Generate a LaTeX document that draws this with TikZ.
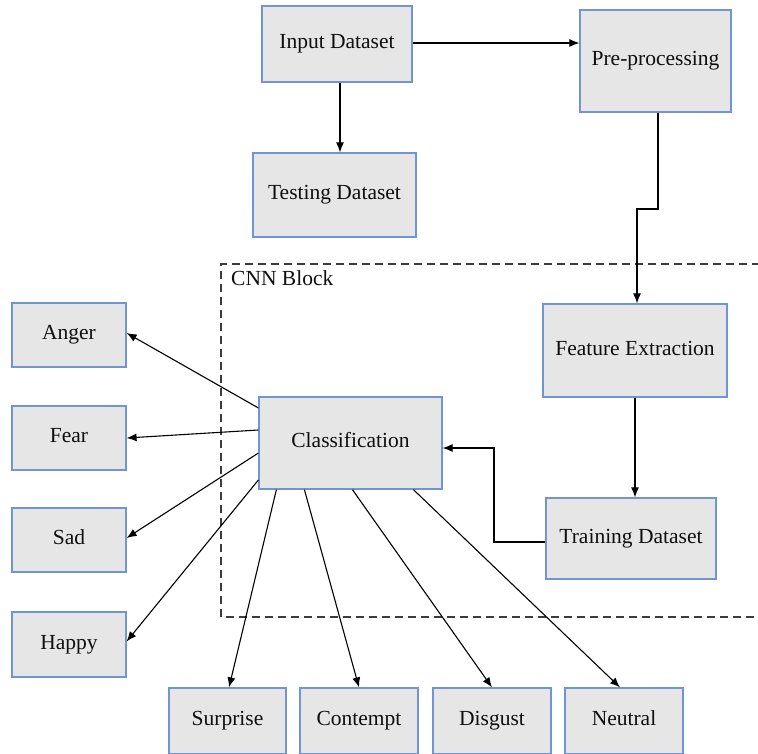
\documentclass[tikz,border=0pt]{standalone}
\usepackage{fontspec}
\setmainfont{Liberation Serif}
\newfontfamily\diagfont{Liberation Serif}
\usetikzlibrary{arrows.meta}
\definecolor{boxfill}{RGB}{231,230,230}
\definecolor{boxline}{RGB}{112,149,210}
\definecolor{txt}{RGB}{15,15,15}
\definecolor{dashc}{RGB}{60,60,60}
\tikzset{
  stepbox/.style={draw=boxline, fill=boxfill, line width=1.2pt, inner sep=0pt,
    font=\diagfont\fontsize{21.5}{25}\selectfont, text=txt, text height=1.0em, text depth=0.1em},
  arr/.style={draw=black, line width=1.1pt, -{Latex[length=10pt,width=8pt]}},
  cnnline/.style={draw=dashc, line width=1.4pt, dash pattern=on 8pt off 5pt},
}
\begin{document}
\begin{tikzpicture}[x=1pt,y=-1pt]
\useasboundingbox (0,0) rectangle (758,754);
\clip (0,0) rectangle (758,754);
\fill[white] (0,0) rectangle (758,754);

% CNN block
\draw[cnnline] (760,264) -- (221,264) -- (221,617) -- (760,617);
\node[anchor=base west, font=\diagfont\fontsize{21.5}{25}\selectfont, text=txt, inner sep=0pt] (cnn) at (231,285) {CNN Block};

% boxes
\node[stepbox, minimum width=150pt, minimum height=76pt] (inp) at (337,44) {Input Dataset};
\node[stepbox, minimum width=151pt, minimum height=102pt] (pre) at (655.5,61) {Pre-processing};
\node[stepbox, minimum width=163pt, minimum height=84pt] (test) at (334.5,195) {Testing Dataset};
\node[stepbox, minimum width=184pt, minimum height=93pt] (feat) at (635,350.5) {Feature Extraction};
\node[stepbox, minimum width=170pt, minimum height=81pt] (train) at (631,538.5) {Training Dataset};
\node[stepbox, minimum width=183pt, minimum height=92pt] (cls) at (350.5,443) {Classification};

\node[stepbox, minimum width=114pt, minimum height=64pt] (anger) at (69,335) {Anger};
\node[stepbox, minimum width=114pt, minimum height=64pt] (fear) at (69,438) {Fear};
\node[stepbox, minimum width=114pt, minimum height=64pt] (sad) at (69,540) {Sad};
\node[stepbox, minimum width=114pt, minimum height=65pt] (happy) at (69,644.5) {Happy};

\node[stepbox, minimum width=117pt, minimum height=66pt] (surprise) at (227.5,721) {Surprise};
\node[stepbox, minimum width=118pt, minimum height=66pt] (contempt) at (359,721) {Contempt};
\node[stepbox, minimum width=118pt, minimum height=66pt] (disgust) at (492,721) {Disgust};
\node[stepbox, minimum width=118pt, minimum height=66pt] (neutral) at (624,721) {Neutral};

% top connectors
\draw[arr] ([yshift=1pt]inp.east) -- ([yshift=1pt]inp.east -| pre.west);
\coordinate (ia) at ([xshift=3pt]inp.south);
\draw[arr] (ia) -- (ia |- test.north);

\coordinate (b1) at (658,209);
\coordinate (b2) at (637,209);
\draw[arr] ([xshift=2.5pt]pre.south) -- (b1) -- (b2) -- (b2 |- feat.north);
\draw[arr] (feat.south) -- (feat.south |- train.north);

\coordinate (t1) at (494,542);
\coordinate (t2) at (494,448);
\draw[arr] ([yshift=-3.5pt]train.west) -- (t1) -- (t2) -- ([yshift=-5pt]cls.east);

% classification outputs
\draw[arr] ([yshift=35pt]cls.west) -- ([yshift=2pt]anger.east);
\draw[arr] ([yshift=13pt]cls.west) -- (fear.east);
\draw[arr] ([yshift=-10pt]cls.west) -- ([yshift=2pt]sad.east);
\draw[arr] ([yshift=-37pt]cls.west) -- ([yshift=3pt]happy.east);

\draw[arr] ([xshift=18pt]cls.south west) -- ([xshift=1.5pt]surprise.north);
\draw[arr] ([xshift=46pt]cls.south west) -- (contempt.north);
\draw[arr] ([xshift=94pt]cls.south west) -- (disgust.north);
\draw[arr] ([xshift=155pt]cls.south west) -- ([xshift=-4pt]neutral.north);
\end{tikzpicture}
\end{document}
